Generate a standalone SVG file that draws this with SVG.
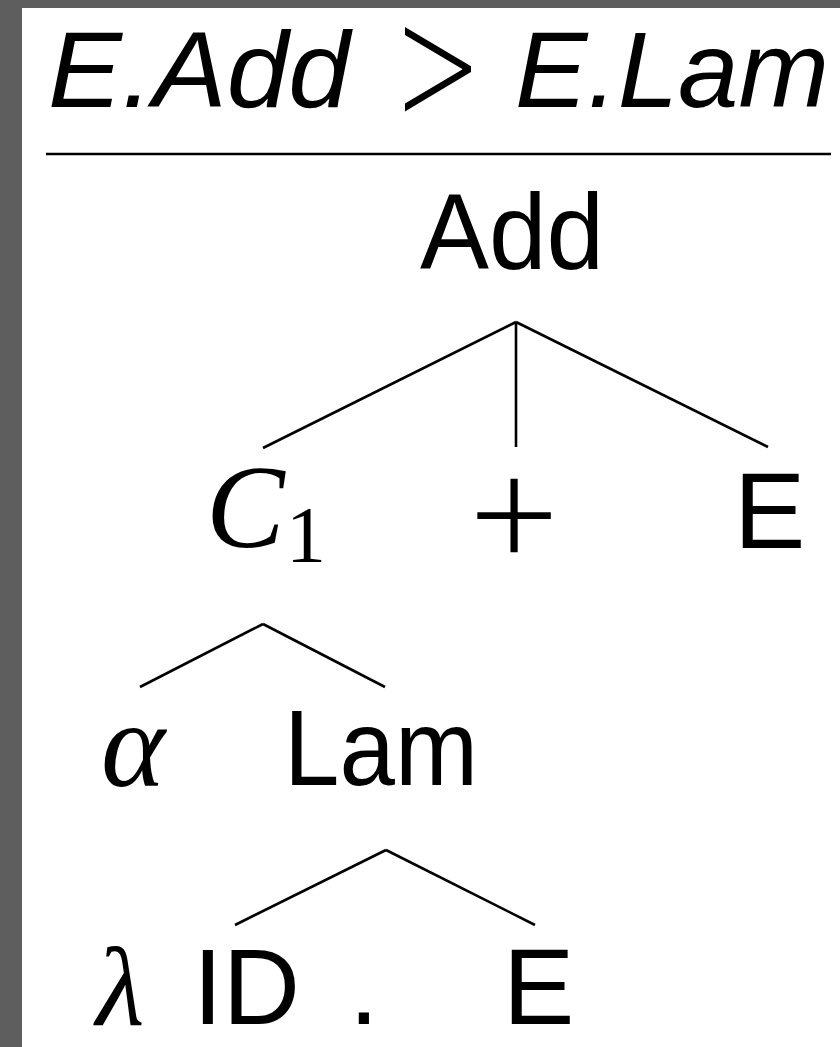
<svg xmlns="http://www.w3.org/2000/svg" width="840" height="1047" viewBox="0 0 840 1047">
<style>
.t{font-family:"Liberation Sans",Arial,sans-serif;font-size:107px;fill:#000}
.it{font-style:italic}
.m{font-family:"Liberation Serif","Times New Roman",serif;font-style:italic;fill:#000}
.sym{font-family:Inter,"DejaVu Sans",sans-serif;font-weight:200;fill:#000}
.e{stroke:#000;stroke-width:2.6;fill:none;stroke-linecap:butt}
</style>
<rect x="0" y="0" width="840" height="1047" fill="#ffffff"/>
<rect x="0" y="0" width="22" height="1047" fill="#5e5e5e"/>
<rect x="0" y="0" width="840" height="8" fill="#5e5e5e"/>
<g id="title">
<text class="t it" x="48" y="107" textLength="302" lengthAdjust="spacingAndGlyphs">E.Add</text>
<text class="sym" x="435" y="115" font-size="160" text-anchor="middle">&gt;</text>
<text class="t it" x="515" y="107" textLength="314" lengthAdjust="spacingAndGlyphs">E.Lam</text>
<line x1="46" y1="154" x2="831" y2="154" stroke="#000" stroke-width="2.6"/>
</g>
<g id="connectors">
<line class="e" x1="516" y1="322" x2="263" y2="448"/>
<line class="e" x1="516" y1="322" x2="516" y2="447"/>
<line class="e" x1="516" y1="322" x2="768" y2="447"/>
<line class="e" x1="263" y1="624" x2="140" y2="687"/>
<line class="e" x1="263" y1="624" x2="385" y2="687"/>
<line class="e" x1="386" y1="850" x2="235" y2="925"/>
<line class="e" x1="386" y1="850" x2="535" y2="925"/>
</g>
<g id="node-add"><text class="t" x="512" y="269" text-anchor="middle" textLength="184" lengthAdjust="spacingAndGlyphs">Add</text></g>
<g id="node-c1"><text class="m" x="206" y="547" font-size="118">C</text><text font-family="Liberation Serif,serif" font-size="80" x="286" y="562" fill="#000">1</text></g>
<g id="node-plus"><text class="sym" x="514" y="564" font-size="170" text-anchor="middle">+</text></g>
<g id="node-e1"><text class="t" x="734" y="548">E</text></g>
<g id="node-alpha"><text class="m" x="101" y="786" font-size="122">α</text></g>
<g id="node-lam"><text class="t" x="284" y="785" textLength="194" lengthAdjust="spacingAndGlyphs">Lam</text></g>
<g id="node-lambda-id"><text class="m" x="96" y="1025" font-size="112" font-style="normal">λ</text><text class="t" x="193" y="1024">ID</text><text class="t" x="349" y="1024">.</text></g>
<g id="node-e2"><text class="t" x="503" y="1024">E</text></g>
</svg>
